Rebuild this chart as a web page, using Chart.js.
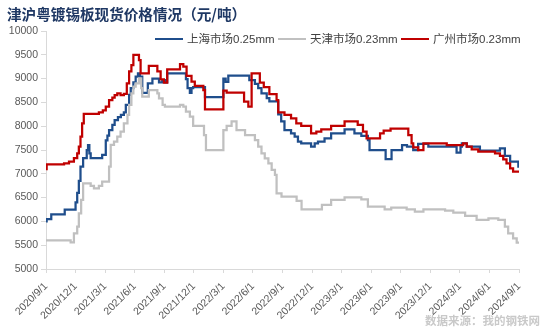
<!DOCTYPE html>
<html>
<head>
<meta charset="utf-8">
<script src="https://cdn.jsdelivr.net/npm/chart.js@4.4.1/dist/chart.umd.min.js"></script>
<style>
    html, body { margin: 0; padding: 0; background: #fff; }
    #wrap { position: relative; width: 551px; height: 332px; overflow: hidden; }
    #grafico { position: absolute; left: 0; top: 0; }
    #titulo {
        position: absolute; left: 7px; top: 4px; white-space: nowrap;
        font: bold 14.6px "Noto Sans CJK SC"; line-height: 20px; color: #1f3864;
    }
    .leyenda {
        position: absolute; top: 31px; height: 16px; white-space: nowrap;
        font: 11.5px "Liberation Sans", "Noto Sans CJK SC"; line-height: 16px; color: #404040;
    }
    .leyenda i { display: inline-block; width: 28px; height: 2.5px; vertical-align: middle; margin-right: 4px; margin-top: -2px; }
    #fuente {
        position: absolute; left: 425px; top: 312px; white-space: nowrap;
        font: bold 11.5px "Noto Sans CJK SC"; color: #c9c9c9; line-height: 16px;
    }
</style>
</head>
<body>
<div id="wrap">
    <canvas id="grafico" width="551" height="332"></canvas>
    <div id="titulo">津沪粤镀锡板现货价格情况（元/吨）</div>
    <div class="leyenda" style="left:155px"><i style="background:#1f4e8c"></i>上海市场0.25mm</div>
    <div class="leyenda" style="left:278px"><i style="background:#c0c0c0"></i>天津市场0.23mm</div>
    <div class="leyenda" style="left:401px"><i style="background:#c00000"></i>广州市场0.23mm</div>
    <div id="fuente">数据来源：我的钢铁网</div>
</div>
<script>
// etiquetas del eje x (cada 3 meses)
const etiquetasX = ['2020/9/1', '2020/12/1', '2021/3/1', '2021/6/1', '2021/9/1', '2021/12/1',
    '2022/3/1', '2022/6/1', '2022/9/1', '2022/12/1', '2023/3/1', '2023/6/1', '2023/9/1',
    '2023/12/1', '2024/3/1', '2024/6/1', '2024/9/1'];

// 上海市场0.25mm
const fechasSH = ['2020-09-01', '2020-09-03', '2020-09-17', '2020-10-28', '2020-12-01', '2020-12-06',
    '2020-12-11', '2020-12-16', '2020-12-24', '2021-01-05', '2021-01-09', '2021-01-13', '2021-01-17',
    '2021-02-22', '2021-03-03', '2021-03-08', '2021-03-13', '2021-03-23', '2021-03-30', '2021-04-10',
    '2021-04-19', '2021-04-28', '2021-05-04', '2021-05-14', '2021-05-19', '2021-05-27', '2021-06-04',
    '2021-06-11', '2021-06-17', '2021-06-24', '2021-07-11', '2021-07-25', '2021-08-15', '2021-08-25',
    '2021-09-03', '2021-09-10', '2021-11-07', '2021-11-12', '2021-11-19', '2021-11-24', '2021-11-29',
    '2022-01-05', '2022-03-01', '2022-03-08', '2022-03-16', '2022-05-20', '2022-06-07', '2022-06-17',
    '2022-06-27', '2022-07-13', '2022-07-21', '2022-08-18', '2022-08-27', '2022-09-07', '2022-09-27',
    '2022-10-08', '2022-10-18', '2022-10-28', '2022-11-28', '2022-12-09', '2022-12-19', '2023-01-09',
    '2023-01-29', '2023-03-10', '2023-04-10', '2023-05-01', '2023-05-21', '2023-05-26', '2023-07-15',
    '2023-08-03', '2023-09-05', '2023-09-20', '2023-10-09', '2023-10-24', '2023-11-25', '2024-02-21',
    '2024-03-03', '2024-03-07', '2024-03-22', '2024-05-02', '2024-07-03', '2024-07-18', '2024-08-04',
    '2024-08-29', '2024-09-01'];
const preciosSH = [6000, 6050, 6150, 6250, 6400, 6600,
    6850, 7150, 7330, 7500, 7600, 7430, 7330,
    7400, 7700, 7800, 7920, 8030, 8130, 8190,
    8240, 8290, 8450, 8660, 8800, 8920, 9040,
    9110, 9040, 8700, 8900, 9000, 8920, 8970,
    8920, 9110, 8990, 8800, 8700, 8800, 8820,
    8610, 9000, 8930, 9060, 8970, 8890, 8800,
    8690, 8590, 8520, 8250, 8100, 7920, 7850,
    7780, 7675, 7640, 7570, 7640, 7675, 7745,
    7850, 7935, 7850, 7795, 7710, 7500, 7310,
    7500, 7600, 7570, 7500, 7630, 7570, 7445,
    7570, 7640, 7570, 7485, 7535, 7375, 7255,
    7150, 7150];

// 天津市场0.23mm
const fechasTJ = ['2020-09-01', '2020-11-16', '2020-11-26', '2020-12-06', '2020-12-11', '2020-12-18',
    '2020-12-24', '2021-01-17', '2021-01-27', '2021-02-12', '2021-02-22', '2021-03-13', '2021-03-18',
    '2021-03-28', '2021-04-08', '2021-04-18', '2021-04-28', '2021-05-09', '2021-05-14', '2021-05-21',
    '2021-05-27', '2021-06-04', '2021-06-14', '2021-06-21', '2021-06-24', '2021-07-14', '2021-08-10',
    '2021-08-15', '2021-08-26', '2021-09-03', '2021-10-19', '2021-10-29', '2021-11-07', '2021-11-19',
    '2021-11-29', '2022-01-02', '2022-01-08', '2022-03-01', '2022-03-11', '2022-03-26', '2022-04-11',
    '2022-05-07', '2022-06-07', '2022-06-17', '2022-06-27', '2022-07-07', '2022-07-18', '2022-07-28',
    '2022-08-08', '2022-08-13', '2022-08-28', '2022-10-14', '2022-10-29', '2023-01-01', '2023-01-29',
    '2023-03-10', '2023-05-01', '2023-05-21', '2023-07-12', '2023-08-02', '2023-09-19', '2023-10-14',
    '2023-11-10', '2024-01-16', '2024-02-11', '2024-03-17', '2024-04-22', '2024-05-28', '2024-06-28',
    '2024-07-18', '2024-07-28', '2024-08-13', '2024-08-24', '2024-09-01'];
const preciosTJ = [5600, 5560, 5750, 5890, 6170, 6450,
    6800, 6745, 6695, 6745, 6835, 7150, 7610,
    7675, 7780, 7885, 8060, 8240, 8450, 8690,
    8830, 8900, 9005, 8800, 8620, 8760, 8690,
    8585, 8450, 8410, 8450, 8410, 8305, 8200,
    8005, 7815, 7500, 7920, 8005, 8100, 7920,
    7815, 7710, 7570, 7430, 7325, 7220, 7080,
    6975, 6590, 6520, 6430, 6255, 6345, 6450,
    6505, 6465, 6310, 6255, 6290, 6255, 6205,
    6255, 6225, 6185, 6115, 6030, 6065, 6030,
    5890, 5750, 5645, 5555, 5555];

// 广州市场0.23mm
const fechasGZ = ['2020-09-01', '2020-09-03', '2020-10-26', '2020-11-11', '2020-11-26', '2020-12-06',
    '2020-12-11', '2020-12-16', '2020-12-21', '2020-12-26', '2021-02-12', '2021-02-24', '2021-03-03',
    '2021-03-13', '2021-03-23', '2021-03-30', '2021-04-08', '2021-04-18', '2021-04-28', '2021-05-07',
    '2021-05-14', '2021-05-21', '2021-05-27', '2021-06-14', '2021-06-19', '2021-07-14', '2021-08-10',
    '2021-08-20', '2021-08-30', '2021-09-10', '2021-10-19', '2021-10-29', '2021-11-09', '2021-11-24',
    '2021-12-04', '2021-12-30', '2022-01-05', '2022-03-01', '2022-03-11', '2022-05-04', '2022-05-17',
    '2022-05-27', '2022-06-22', '2022-07-04', '2022-07-21', '2022-08-13', '2022-08-18', '2022-09-07',
    '2022-09-27', '2022-10-13', '2022-10-28', '2022-11-28', '2022-12-14', '2022-12-29', '2023-01-29',
    '2023-03-10', '2023-04-20', '2023-05-06', '2023-05-17', '2023-06-28', '2023-07-09', '2023-07-30',
    '2023-09-24', '2023-10-04', '2023-10-09', '2023-10-24', '2023-11-10', '2024-01-21', '2024-03-11',
    '2024-03-22', '2024-04-07', '2024-04-27', '2024-06-18', '2024-07-03', '2024-07-13', '2024-07-23',
    '2024-08-04', '2024-08-13', '2024-09-01'];
const preciosGZ = [7100, 7200, 7220, 7255, 7330, 7430,
    7570, 7780, 8060, 8260, 8290, 8330, 8410,
    8550, 8600, 8655, 8690, 8655, 8680, 8900,
    9150, 9285, 9500, 9390, 9110, 9265, 9150,
    8985, 8915, 9195, 9305, 9250, 9055, 8935,
    8845, 8760, 8355, 8745, 8705, 8515, 8410,
    9110, 8915, 8820, 8675, 8550, 8290, 8240,
    8165, 8060, 8005, 7850, 7885, 7935, 8005,
    8100, 8030, 7885, 7745, 7850, 7905, 7950,
    7815, 7640, 7555, 7500, 7640, 7605, 7640,
    7570, 7515, 7465, 7430, 7375, 7305, 7220,
    7115, 7045, 7045];

// meses transcurridos desde 2020/9/1
function aMeses(fecha) {
    const p = fecha.split('-').map(Number);
    return (p[0] - 2020) * 12 + (p[1] - 9) + (p[2] - 1) / 30;
}

function puntos(fechas, precios) {
    return fechas.map(function (f, i) {
        return { x: aMeses(f), y: precios[i] };
    });
}

function serie(fechas, precios, color, orden) {
    return {
        data: puntos(fechas, precios),
        borderColor: color,
        backgroundColor: color,
        borderWidth: 2.25,
        pointRadius: 0,
        stepped: 'before',
        fill: false,
        order: orden
    };
}

const fuenteEjes = { family: 'Liberation Sans', size: 10.5 };
const colorEje = '#d9d9d9';

window.addEventListener('load', function () {
    const ctx = document.getElementById('grafico');
    if (!ctx || typeof Chart === 'undefined') return;

    new Chart(ctx, {
        type: 'line',
        data: {
            datasets: [
                serie(fechasSH, preciosSH, '#1f4e8c', 2),
                serie(fechasTJ, preciosTJ, '#c0c0c0', 1),
                serie(fechasGZ, preciosGZ, '#c00000', 0)
            ]
        },
        options: {
            responsive: false,
            animation: false,
            layout: { padding: { top: 31, right: 32, left: 0, bottom: 0 } },
            plugins: {
                legend: { display: false },
                title: { display: false },
                tooltip: { enabled: false }
            },
            scales: {
                x: {
                    type: 'linear',
                    min: 0,
                    max: 48,
                    afterFit: function (s) { s.height = 63; },
                    afterBuildTicks: function (s) {
                        s.ticks = etiquetasX.map(function (t, i) { return { value: i * 3 }; });
                    },
                    ticks: {
                        autoSkip: false,
                        minRotation: 45,
                        maxRotation: 45,
                        padding: 7,
                        color: '#595959',
                        font: fuenteEjes,
                        callback: function (v) { return etiquetasX[Math.round(v / 3)]; }
                    },
                    grid: { drawOnChartArea: false, drawTicks: true, tickLength: 4, color: colorEje },
                    border: { color: colorEje, width: 1 }
                },
                y: {
                    min: 5000,
                    max: 10000,
                    afterFit: function (s) { s.width = 46; },
                    ticks: {
                        stepSize: 500,
                        padding: 3,
                        color: '#595959',
                        font: fuenteEjes,
                        callback: function (v) { return String(v); }
                    },
                    grid: { drawOnChartArea: false, drawTicks: true, tickLength: 5, color: colorEje },
                    border: { color: colorEje, width: 1 }
                }
            }
        }
    });
});
</script>
</body>
</html>
